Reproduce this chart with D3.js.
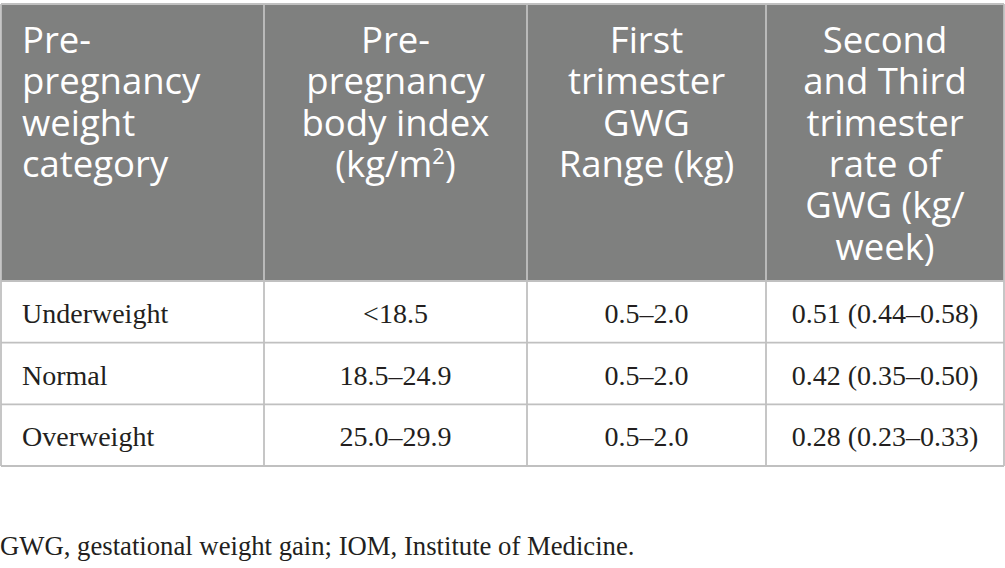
<!DOCTYPE html>
<html>
<head>
<meta charset="utf-8">
<script src="https://cdn.jsdelivr.net/npm/d3@7"></script>
<style>
  body { margin: 0; background: #fff; }
</style>
</head>
<body>
<div id="table"></div>
<script>
// table content
var headerLines = [
  ["Pre-", "pregnancy", "weight", "category"],
  ["Pre-", "pregnancy", "body index", "(kg/m2)"],
  ["First", "trimester", "GWG", "Range (kg)"],
  ["Second", "and Third", "trimester", "rate of", "GWG (kg/", "week)"]
];
var categories = ["Underweight", "Normal", "Overweight"];
var bmiRange = ["<18.5", "18.5\u201324.9", "25.0\u201329.9"];
var firstTrimester = ["0.5\u20132.0", "0.5\u20132.0", "0.5\u20132.0"];
var laterRate = ["0.51 (0.44\u20130.58)", "0.42 (0.35\u20130.50)", "0.28 (0.23\u20130.33)"];
var footnote = "GWG, gestational weight gain; IOM, Institute of Medicine.";

var width = 1005, height = 568;
var colEdges = [1, 264, 527, 766, 1004];
var tableTop = 4, headBottom = 281, tableBottom = 466;
var lineColor = "#c0c0c0";

var svg = d3.select("#table").append("svg")
  .attr("width", width)
  .attr("height", height);

var rows = d3.scaleBand()
  .domain(categories)
  .range([headBottom, tableBottom]);

// header
svg.append("rect")
  .attr("x", colEdges[0]).attr("y", tableTop)
  .attr("width", colEdges[4] - colEdges[0])
  .attr("height", headBottom - tableTop)
  .attr("fill", "#7f807f");

var lineHeight = 41.3;
headerLines.forEach(function(lines, i) {
  var left = i === 0;
  var x = left ? colEdges[0] + 21 : (colEdges[i] + colEdges[i + 1]) / 2;
  var t = svg.append("text")
    .attr("x", x)
    .attr("text-anchor", left ? "start" : "middle")
    .attr("font-family", "'Open Sans', sans-serif")
    .attr("font-size", 36.5)
    .attr("fill", "#fff");
  lines.forEach(function(line, j) {
    var y = 53 + j * lineHeight;
    if (line === "(kg/m2)") {
      var ts = t.append("tspan").attr("x", x).attr("y", y);
      ts.append("tspan").text("(kg/m");
      ts.append("tspan").attr("dy", -13).attr("font-size", 22).text("2");
      ts.append("tspan").attr("dy", 13).text(")");
    } else {
      t.append("tspan").attr("x", x).attr("y", y).text(line);
    }
  });
});

// body cells
var columns = [categories, bmiRange, firstTrimester, laterRate];
columns.forEach(function(col, i) {
  var left = i === 0;
  svg.append("g").selectAll("text")
    .data(col)
    .join("text")
      .attr("x", left ? colEdges[0] + 21 : (colEdges[i] + colEdges[i + 1]) / 2)
      .attr("y", function(d, k) { return rows(categories[k]) + rows.bandwidth() / 2 + 11; })
      .attr("text-anchor", left ? "start" : "middle")
      .attr("font-family", "'Liberation Serif', serif")
      .attr("font-size", 28)
      .attr("fill", "#231f20")
      .text(function(d) { return d; });
});

// grid lines
var grid = svg.append("g")
  .attr("stroke", lineColor)
  .attr("stroke-width", 1.8)
  .attr("fill", "none");

grid.append("line")
  .attr("x1", colEdges[0]).attr("x2", colEdges[4])
  .attr("y1", tableTop).attr("y2", tableTop);
grid.selectAll(".h")
  .data(categories)
  .join("line")
    .attr("x1", colEdges[0]).attr("x2", colEdges[4])
    .attr("y1", function(d) { return rows(d); })
    .attr("y2", function(d) { return rows(d); });
grid.append("line")
  .attr("x1", colEdges[0]).attr("x2", colEdges[4])
  .attr("y1", tableBottom).attr("y2", tableBottom);
grid.selectAll(".v")
  .data(colEdges)
  .join("line")
    .attr("x1", function(d) { return d; }).attr("x2", function(d) { return d; })
    .attr("y1", tableTop).attr("y2", tableBottom);

svg.append("text")
  .attr("x", 0)
  .attr("y", 555)
  .attr("font-family", "'Liberation Serif', serif")
  .attr("font-size", 26.7)
  .attr("fill", "#231f20")
  .text(footnote);
</script>
</body>
</html>
